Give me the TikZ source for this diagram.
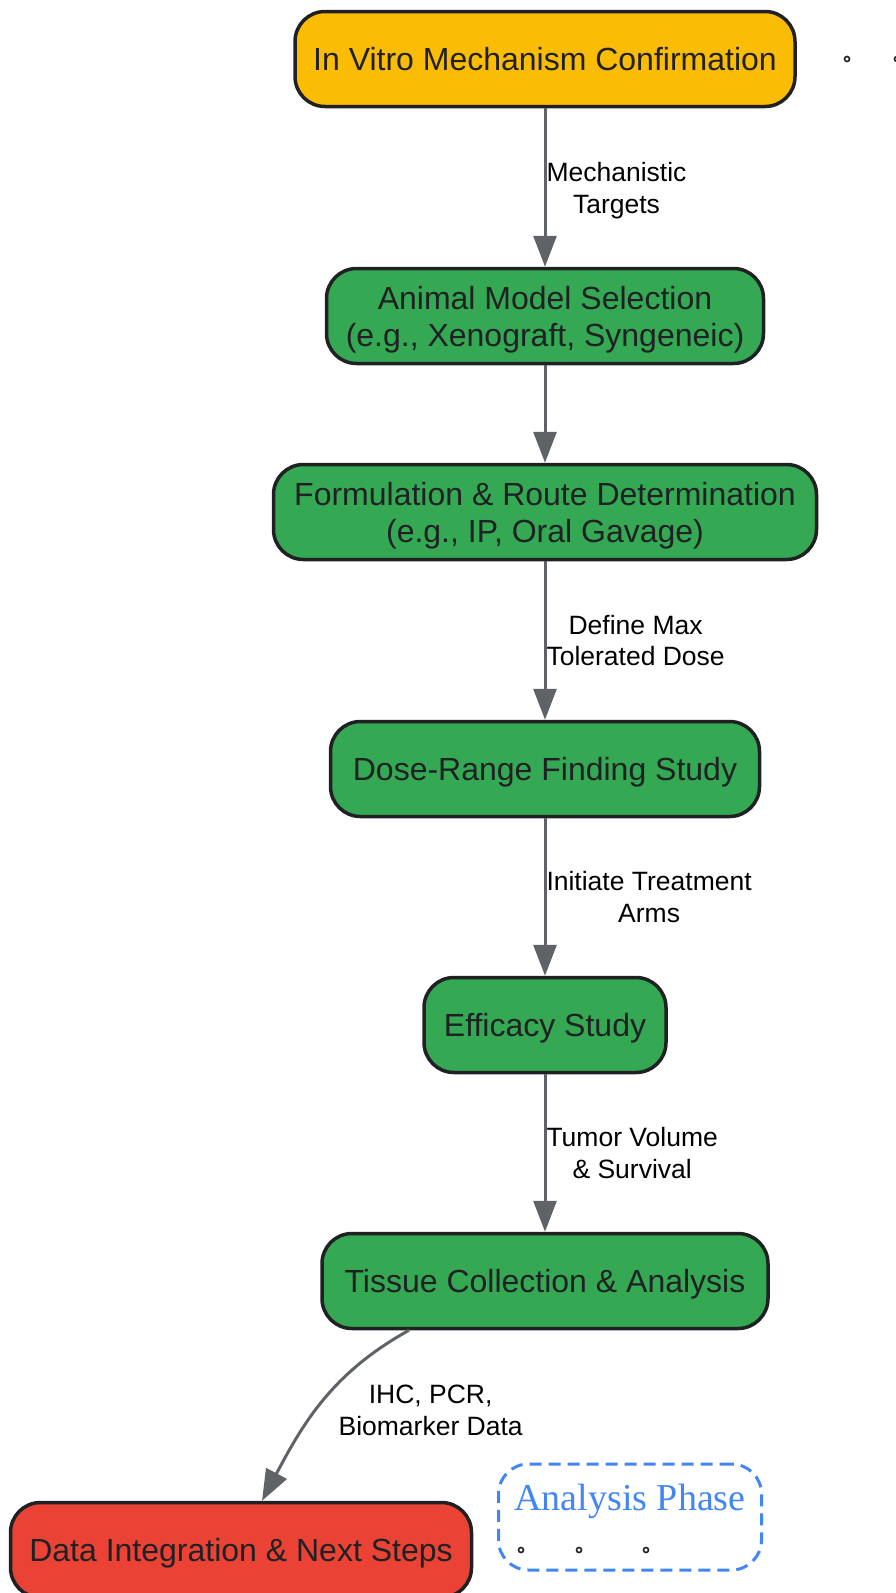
\documentclass[tikz,border=0pt]{standalone}
\usepackage{fontspec}
\setmainfont{Liberation Sans}
\newfontfamily\phasefont{Liberation Serif}
\usetikzlibrary{arrows.meta}
\definecolor{stepyellow}{HTML}{FBBC05}
\definecolor{stepgreen}{HTML}{34A853}
\definecolor{stepred}{HTML}{EA4335}
\definecolor{phaseblue}{HTML}{4285F4}
\definecolor{edgegray}{HTML}{5F6368}
\definecolor{inkdark}{HTML}{202124}
\tikzset{
  stepbox/.style={draw=inkdark, line width=3.5pt, rounded corners=30pt, minimum height=95pt,
    align=center, text=inkdark, inner sep=0pt, text depth=0pt, font=\fontsize{32}{37}\selectfont},
  flow/.style={draw=edgegray, line width=3pt, -{Triangle[length=31pt,width=23pt]}},
  flowlabel/.style={font=\fontsize{26.5}{31.5}\selectfont, align=center, text=black, inner sep=0pt},
  pindot/.style={circle, draw=inkdark, line width=1.6pt, minimum size=5pt, inner sep=0pt},
  phasebox/.style={draw=phaseblue, line width=3pt, dash pattern=on 12pt off 7pt, rounded corners=30pt,
    minimum width=263pt, minimum height=106pt, inner sep=0pt}
}
\begin{document}
\begin{tikzpicture}[x=1pt, y=1pt]
    \useasboundingbox (0,0) rectangle (895,-1593);

    \node[stepbox, fill=stepyellow, minimum width=500pt] (vitro) at (545,-59) {In Vitro Mechanism Confirmation};
    \node[stepbox, fill=stepgreen, minimum width=437pt] (animal) at (545,-316) {Animal Model Selection\\(e.g., Xenograft, Syngeneic)};
    \node[stepbox, fill=stepgreen, minimum width=543pt] (formul) at (545,-512) {Formulation \& Route Determination\\(e.g., IP, Oral Gavage)};
    \node[stepbox, fill=stepgreen, minimum width=429pt] (dose) at (545,-769) {Dose-Range Finding Study};
    \node[stepbox, fill=stepgreen, minimum width=242pt] (efficacy) at (545,-1025) {Efficacy Study};
    \node[stepbox, fill=stepgreen, minimum width=446pt] (tissue) at (545,-1281) {Tissue Collection \& Analysis};
    \node[stepbox, fill=stepred, minimum width=461pt] (data) at (241,-1550) {Data Integration \& Next Steps};

    \node[phasebox] (phase) at (630,-1517) {};
    \node[text=phaseblue, inner sep=0pt, font=\phasefont\fontsize{38}{40}\selectfont] (phasetitle) at (630,-1501) {Analysis Phase};

    \node[pindot] (d1) at (847,-59) {};
    \node[pindot] (d2) at (897,-59) {};
    \node[pindot] (d3) at (521,-1550) {};
    \node[pindot] (d4) at (579,-1550) {};
    \node[pindot] (d5) at (646,-1550) {};

    \draw[flow] (vitro) -- (animal) node[midway, right, yshift=-3pt, flowlabel] {Mechanistic\\Targets};
    \draw[flow] (animal) -- (formul);
    \draw[flow] (formul) -- (dose) node[midway, right, flowlabel] {Define Max\\Tolerated Dose};
    \draw[flow] (dose) -- (efficacy) node[midway, right, flowlabel] {Initiate Treatment\\Arms};
    \draw[flow] (efficacy) -- (tissue) node[midway, right, flowlabel] {Tumor Volume\\\& Survival};

    \draw[flow] ([xshift=-136pt]tissue.south) to[out=209, in=62]
        node[pos=0.5, anchor=west, xshift=15pt, yshift=-8pt, flowlabel] {IHC, PCR,\\Biomarker Data} ([xshift=21pt]data.north);
\end{tikzpicture}
\end{document}
